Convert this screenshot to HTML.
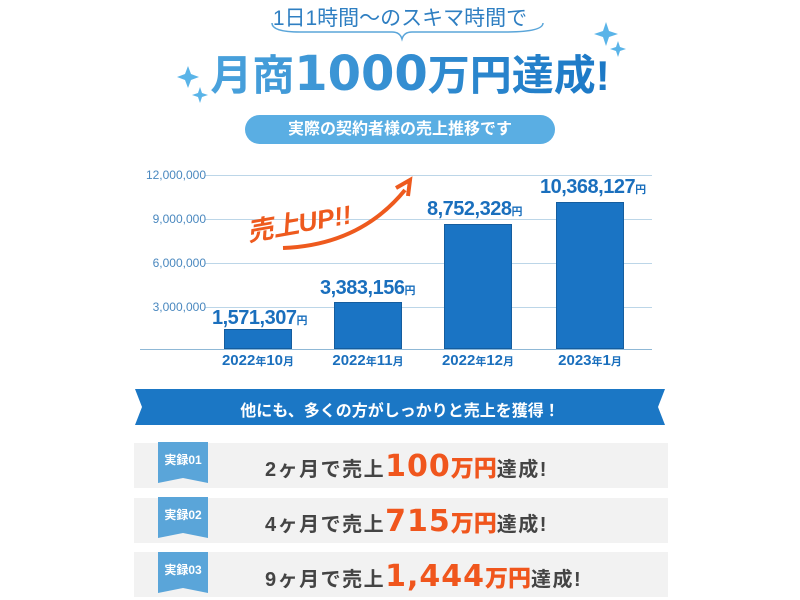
<!DOCTYPE html>
<html><head><meta charset="utf-8"><style>
body{margin:0;width:800px;height:600px;background:#fff;position:relative;overflow:hidden;font-family:"Liberation Sans","Noto Sans CJK JP",sans-serif}
.a{position:absolute;white-space:nowrap}
.grid{position:absolute;left:205px;width:447px;height:1px;background:#bcd6e8}
.yl{position:absolute;left:120px;width:86px;text-align:right;font-size:12px;color:#4a88bf}
.bar{position:absolute;background:#1a74c4;border:1px solid #155d9e;box-sizing:border-box}
.vl{position:absolute;font-size:20px;font-weight:bold;color:#1a6fbd;letter-spacing:-0.5px}
.vl small{font-size:11px}
.xl{position:absolute;font-size:15px;color:#1a6fbd;font-weight:bold;width:120px;text-align:center}
.row{position:absolute;left:134px;width:534px;height:45px;background:#f2f2f2}
.tag{position:absolute;left:158px;width:50px;height:36px;background:#5aa5d9;color:#fff;font-size:12px;font-weight:bold;text-align:center;line-height:36px}
.tag:after{content:"";position:absolute;left:0;top:36px;border-left:25px solid #5aa5d9;border-right:25px solid #5aa5d9;border-bottom:5px solid transparent}
.rt{position:absolute;left:265px;font-size:20px;color:#444;font-weight:bold;letter-spacing:1.5px}
.rt b{color:#f0561d;font-size:30px;font-family:"DejaVu Sans","Noto Sans CJK JP",sans-serif;letter-spacing:1px}
.rt b i{font-style:normal;font-size:23px;font-family:"Noto Sans CJK JP",sans-serif;letter-spacing:0}
</style></head><body>
<div class="a" style="left:0;width:800px;top:2px;text-align:center;font-size:21px;color:#2f7fc2">1日1時間〜のスキマ時間で</div>
<svg class="a" style="left:0;top:0" width="800" height="120">
<path d="M272 23 Q272 32 300 32 L392 32 Q400 32 402 39 Q404 32 412 32 L505 32 Q543 32 543 23" fill="none" stroke="#5aa5d9" stroke-width="1.5"/>
<g fill="#5ab4e8">
<path d="M606 22 l3 9 9 3 -9 3 -3 9 -3 -9 -9 -3 9 -3z"/>
<path d="M618 41 l2 6 6 2 -6 2 -2 6 -2 -6 -6 -2 6 -2z"/>
<path d="M188 66 l3 8 8 3 -8 3 -3 8 -3 -8 -8 -3 8 -3z"/>
<path d="M200 87 l2 6 6 2 -6 2 -2 6 -2 -6 -6 -2 6 -2z"/>
</g>
<defs><linearGradient id="g" x1="0" x2="1"><stop offset="0" stop-color="#4aa2dc"/><stop offset="1" stop-color="#1b78c6"/></linearGradient></defs>
<text x="410" y="90" text-anchor="middle" font-size="42" font-weight="bold" fill="url(#g)" font-family="Liberation Sans,Noto Sans CJK JP,sans-serif">月商<tspan font-size="48" font-family="DejaVu Sans,sans-serif">1000</tspan>万円達成!</text>
</svg>
<div class="a" style="left:245px;top:115px;width:310px;height:29px;border-radius:15px;background:#5aaee3;color:#fff;font-size:16px;font-weight:bold;text-align:center;line-height:29px">実際の契約者様の売上推移です</div>

<div class="grid" style="top:175px"></div><div class="grid" style="top:219px"></div><div class="grid" style="top:263px"></div><div class="grid" style="top:307px"></div>
<div class="grid" style="top:349px;background:#8fb8d6;left:140px;width:512px"></div>
<div class="yl" style="top:168px">12,000,000</div><div class="yl" style="top:212px">9,000,000</div><div class="yl" style="top:256px">6,000,000</div><div class="yl" style="top:300px">3,000,000</div>
<div class="bar" style="left:224px;width:68px;top:329px;height:20px"></div>
<div class="bar" style="left:334px;width:68px;top:302px;height:47px"></div>
<div class="bar" style="left:444px;width:68px;top:224px;height:125px"></div>
<div class="bar" style="left:556px;width:68px;top:202px;height:147px"></div>
<div class="vl" style="left:212px;top:307px">1,571,307<small>円</small></div>
<div class="vl" style="left:320px;top:277px">3,383,156<small>円</small></div>
<div class="vl" style="left:427px;top:198px">8,752,328<small>円</small></div>
<div class="vl" style="left:540px;top:176px">10,368,127<small>円</small></div>
<div class="xl" style="left:198px;top:352px">2022<small style="font-size:11px">年</small>10<small style="font-size:11px">月</small></div>
<div class="xl" style="left:308px;top:352px">2022<small style="font-size:11px">年</small>11<small style="font-size:11px">月</small></div>
<div class="xl" style="left:418px;top:352px">2022<small style="font-size:11px">年</small>12<small style="font-size:11px">月</small></div>
<div class="xl" style="left:530px;top:352px">2023<small style="font-size:11px">年</small>1<small style="font-size:11px">月</small></div>
<svg class="a" style="left:0;top:0" width="800" height="600">
<path d="M283 248 Q360 245 405 190" fill="none" stroke="#ee5a1e" stroke-width="4"/>
<path d="M396 188 L410 180 L408 196" fill="none" stroke="#ee5a1e" stroke-width="4"/>
<text x="245" y="232" font-size="26" font-weight="bold" fill="#ee5a1e" font-style="italic" transform="rotate(-10 300 215)" font-family="Liberation Sans,Noto Sans CJK JP,sans-serif">売上UP!!</text>
<path d="M135 389 L665 389 L658 407 L665 425 L135 425 L142 407Z" fill="#1b77c5"/>
</svg>
<div class="a" style="left:0;width:800px;top:397px;text-align:center;color:#fff;font-size:16px;font-weight:bold">他にも、多くの方がしっかりと売上を獲得！</div>
<div class="row" style="top:443px"></div><div class="row" style="top:498px"></div><div class="row" style="top:552px"></div>
<div class="tag" style="top:442px">実録01</div><div class="tag" style="top:497px">実録02</div><div class="tag" style="top:552px">実録03</div>
<div class="rt" style="top:449px">2ヶ月で売上<b>100<i>万円</i></b>達成!</div>
<div class="rt" style="top:504px">4ヶ月で売上<b>715<i>万円</i></b>達成!</div>
<div class="rt" style="top:559px">9ヶ月で売上<b>1,444<i>万円</i></b>達成!</div>
</body></html>
